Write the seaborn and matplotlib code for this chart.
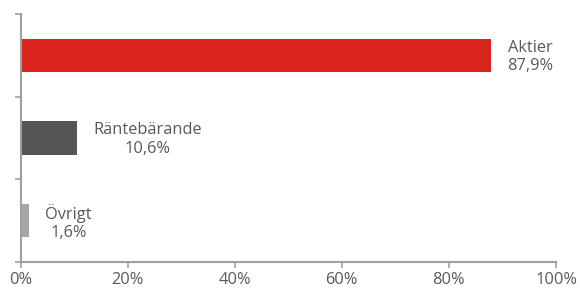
import matplotlib
matplotlib.use("Agg")
import matplotlib.pyplot as plt
import numpy as np
import pandas as pd
import seaborn as sns

categories = ["Aktier", "Räntebärande", "Övrigt"]
values = [87.9, 10.6, 1.6]
value_labels = ["87,9%", "10,6%", "1,6%"]
colors = ["#DC241F", "#555555", "#A6A6A6"]
x_ticks = [0, 20, 40, 60, 80, 100]

sns.set_theme(style="white")
plt.rcParams["font.family"] = ["Open Sans", "DejaVu Sans"]

text_color = "#595959"
axis_color = "#A0A0A0"

df = pd.DataFrame({"category": categories, "value": values})

fig = plt.figure(figsize=(5.8, 2.89), dpi=100)
ax = fig.add_axes([20.5 / 580, 1 - 262 / 289, (556 - 20.5) / 580, (262 - 14) / 289])

sns.barplot(data=df, x="value", y="category", hue="category", palette=colors,
            legend=False, width=0.4, ax=ax, saturation=1, linewidth=0)

for i, (v, lab) in enumerate(zip(values, value_labels)):
    ax.text(v + 3.0, i + 0.02, f"{categories[i]}\n{lab}", ha="left", va="center",
            multialignment="center", fontsize=11.8, color=text_color, linespacing=1.2)

ax.set_xlim(0, 100)
ax.set_ylim(2.5, -0.5)
ax.set_xticks(x_ticks)
ax.set_xticklabels([f"{t}%" for t in x_ticks], fontsize=11.8, color=text_color)
ax.set_yticks([-0.5, 0.5, 1.5, 2.5])
ax.set_yticklabels([])
ax.set_xlabel("")
ax.set_ylabel("")

for side in ["top", "right"]:
    ax.spines[side].set_visible(False)
for side in ["left", "bottom"]:
    ax.spines[side].set_color(axis_color)
    ax.spines[side].set_linewidth(1.5)

ax.tick_params(axis="both", direction="out", length=4, width=1.2, color=axis_color,
               bottom=True, left=True)
ax.tick_params(axis="x", pad=3)
ax.tick_params(axis="y", pad=0)

fig.savefig("out.png", dpi=100)
